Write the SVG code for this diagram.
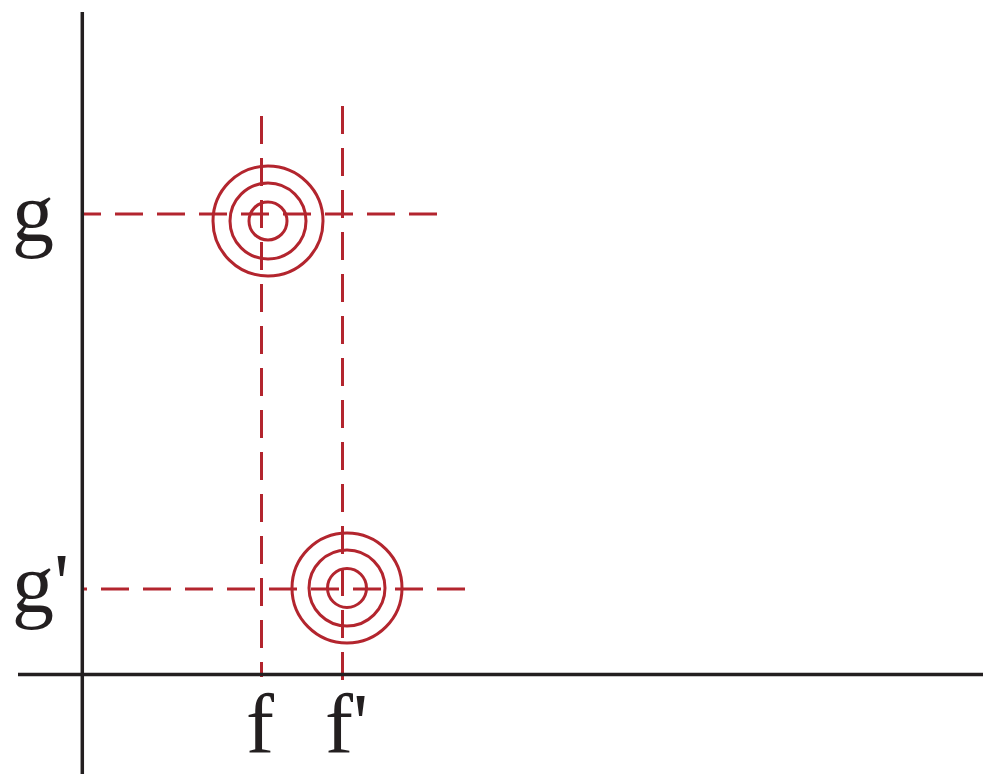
<svg xmlns="http://www.w3.org/2000/svg" width="983" height="774" viewBox="0 0 983 774">
<style>
.axis{stroke:#231f20;stroke-width:3.5;fill:none}
.dash{stroke:#b3252e;stroke-width:3;fill:none;stroke-dasharray:28 14}
.ring{stroke:#b3252e;stroke-width:3;fill:none}
.lbl{font-family:"Liberation Serif","Times New Roman",serif;font-size:84px;fill:#231f20}
</style>
<rect width="983" height="774" fill="#ffffff"/>
<g id="connectors">
<line class="dash" x1="437" y1="214" x2="82" y2="214"/>
<line class="dash" x1="465" y1="589" x2="84" y2="589"/>
<line class="dash" x1="261.5" y1="116" x2="261.5" y2="677"/>
<line class="dash" x1="342.5" y1="106" x2="342.5" y2="680"/>
</g>
<g id="axes">
<line class="axis" x1="82.3" y1="12" x2="82.3" y2="774"/>
<line class="axis" x1="18" y1="674.5" x2="983" y2="674.5"/>
</g>
<g id="target-top">
<circle class="ring" cx="268" cy="221" r="55"/>
<circle class="ring" cx="268" cy="221" r="38"/>
<circle class="ring" cx="268" cy="221" r="19"/>
</g>
<g id="target-bottom">
<circle class="ring" cx="347" cy="588" r="55"/>
<circle class="ring" cx="347" cy="588" r="38"/>
<circle class="ring" cx="347" cy="588" r="19.5"/>
</g>
<g id="label-g"><text class="lbl" x="12" y="241">g</text></g>
<g id="label-g-prime"><text class="lbl" x="12" y="612">g'</text></g>
<g id="label-f"><text class="lbl" x="246" y="752">f</text></g>
<g id="label-f-prime"><text class="lbl" x="325" y="752">f'</text></g>
</svg>
